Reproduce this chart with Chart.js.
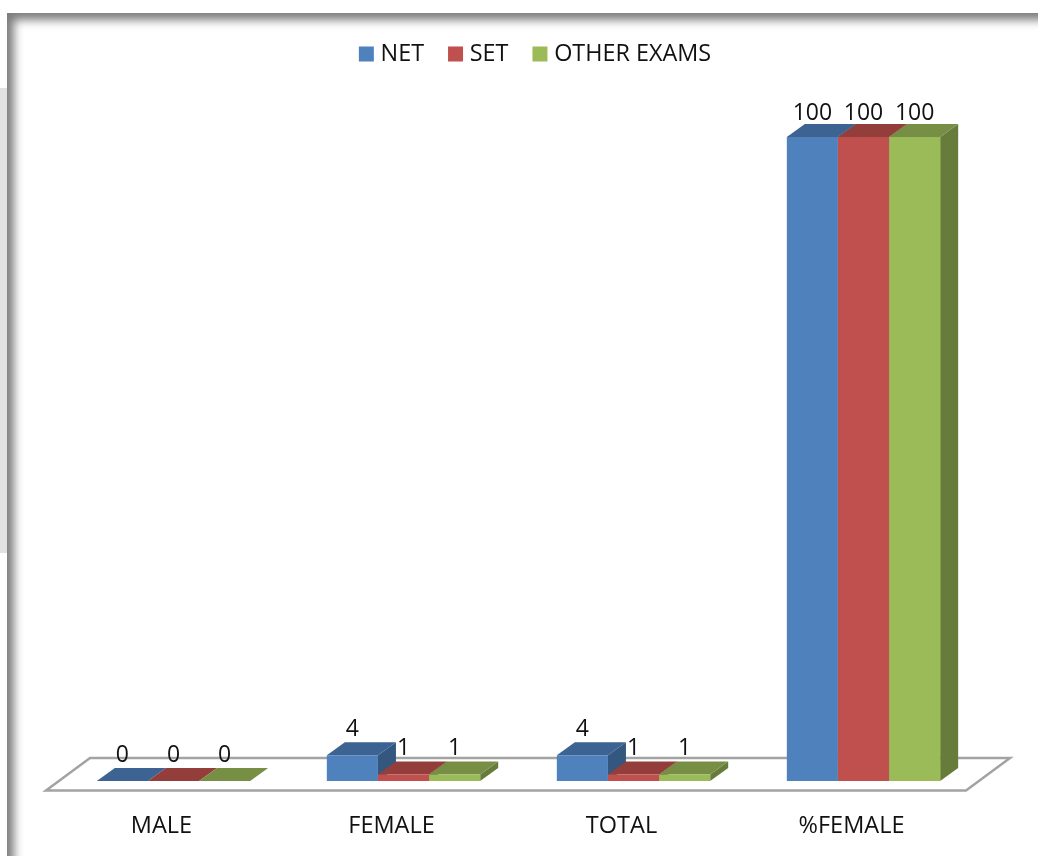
<!DOCTYPE html>
<html>
<head>
<meta charset="utf-8">
<style>
html,body{margin:0;padding:0;background:#fff;overflow:hidden;width:1038px;height:856px}
#band{position:absolute;left:0;top:88px;width:7px;height:465px;background:#e2e2e2}
#frame{position:absolute;left:7px;top:13px;width:1200px;height:1000px;box-shadow:inset 7px 7px 10px 0 #7c7c7c;background:#fff}
#chart{position:absolute;left:0;top:0}
</style>
<script src="https://cdn.jsdelivr.net/npm/chart.js@4"></script>
</head>
<body>
<div id="band"></div>
<div id="frame"></div>
<canvas id="chart" width="1038" height="856"></canvas>
<script>
const categories = ['MALE', 'FEMALE', 'TOTAL', '%FEMALE'];
const netValues = [0, 4, 4, 100];
const setValues = [0, 1, 1, 100];
const otherValues = [0, 1, 1, 100];

const FONT = '"Open Sans", sans-serif';
const DX = 18, DY = 13;
const shades = [
  {front:'#4F81BD', top:'#3C6391', side:'#34577F'},
  {front:'#C0504D', top:'#933E3B', side:'#7F3533'},
  {front:'#9BBB59', top:'#778F45', side:'#677C3A'}
];

function poly(ctx, pts, fill){
  ctx.beginPath();
  pts.forEach((p,i)=> i ? ctx.lineTo(p[0],p[1]) : ctx.moveTo(p[0],p[1]));
  ctx.closePath();
  ctx.fillStyle = fill;
  ctx.fill();
}

const bars3d = {
  id:'bars3d',
  afterLayout(chart){
    const lg = chart.legend;
    lg.left += 19; lg.right += 19;
    lg.top = 13.3;
  },
  beforeDatasetsDraw(chart){
    const {ctx, scales:{x,y}} = chart;
    const b = y.getPixelForValue(0);
    const l = x.left - 12.5, r = x.right - 12.5;
    ctx.save();
    ctx.beginPath();
    ctx.moveTo(l, b+9.5);
    ctx.lineTo(r, b+9.5);
    ctx.lineTo(r+44, b-23);
    ctx.lineTo(l+44, b-23);
    ctx.closePath();
    ctx.strokeStyle = '#a3a3a3';
    ctx.lineWidth = 2.5;
    ctx.lineJoin = 'miter';
    ctx.stroke();
    ctx.restore();
  },
  beforeDatasetDraw(){
    return false;
  },
  afterDatasetsDraw(chart){
    const {ctx} = chart;
    ctx.save();
    chart.data.datasets.forEach((ds,i)=>{
      const s = shades[i];
      chart.getDatasetMeta(i).data.forEach(bar=>{
        const p = bar.getProps(['x','y','base','width'], true);
        const L = p.x - p.width/2, R = p.x + p.width/2;
        poly(ctx, [[R,p.y],[R+DX,p.y-DY],[R+DX,p.base-DY],[R,p.base]], s.side);
        poly(ctx, [[L,p.y],[R,p.y],[R+DX,p.y-DY],[L+DX,p.y-DY]], s.top);
        bar.draw(ctx);
      });
    });
    ctx.font = '23px '+FONT;
    ctx.fillStyle = '#111';
    ctx.textAlign = 'center';
    ctx.textBaseline = 'middle';
    chart.data.datasets.forEach((ds,i)=>{
      chart.getDatasetMeta(i).data.forEach((bar,j)=>{
        const p = bar.getProps(['x','y'], true);
        const off = ds.data[j] === 100 ? 23.5 : 26;
        ctx.fillText(String(ds.data[j]), p.x, p.y - off);
      });
    });
    ctx.restore();
  }
};

new Chart(document.getElementById('chart'), {
  type:'bar',
  data:{
    labels:categories,
    datasets:[
      {label:'NET', data:netValues, backgroundColor:shades[0].front},
      {label:'SET', data:setValues, backgroundColor:shades[1].front},
      {label:'OTHER EXAMS', data:otherValues, backgroundColor:shades[2].front}
    ]
  },
  options:{
    responsive:false,
    animation:false,
    devicePixelRatio:1,
    layout:{padding:{left:58.5,right:59.5,top:74.6,bottom:10}},
    datasets:{bar:{categoryPercentage:2/3,barPercentage:1}},
    scales:{
      x:{
        grid:{display:false},
        border:{display:false},
        afterFit(s){ s.height = 65; },
        ticks:{labelOffset:-12,padding:23,color:'#111',font:{family:FONT,size:23.5},maxRotation:0}
      },
      y:{display:false,min:0,max:100}
    },
    plugins:{
      tooltip:{enabled:false},
      legend:{
        position:'top',
        labels:{
          boxWidth:5,boxHeight:5,
          padding:29,
          color:'#111',
          font:{family:FONT,size:23.4},
          generateLabels(chart){
            return Chart.defaults.plugins.legend.labels.generateLabels(chart).map(it=>{
              it.lineWidth = 10; it.strokeStyle = it.fillStyle; return it;
            });
          }
        }
      }
    }
  },
  plugins:[bars3d]
});
</script>
</body>
</html>
